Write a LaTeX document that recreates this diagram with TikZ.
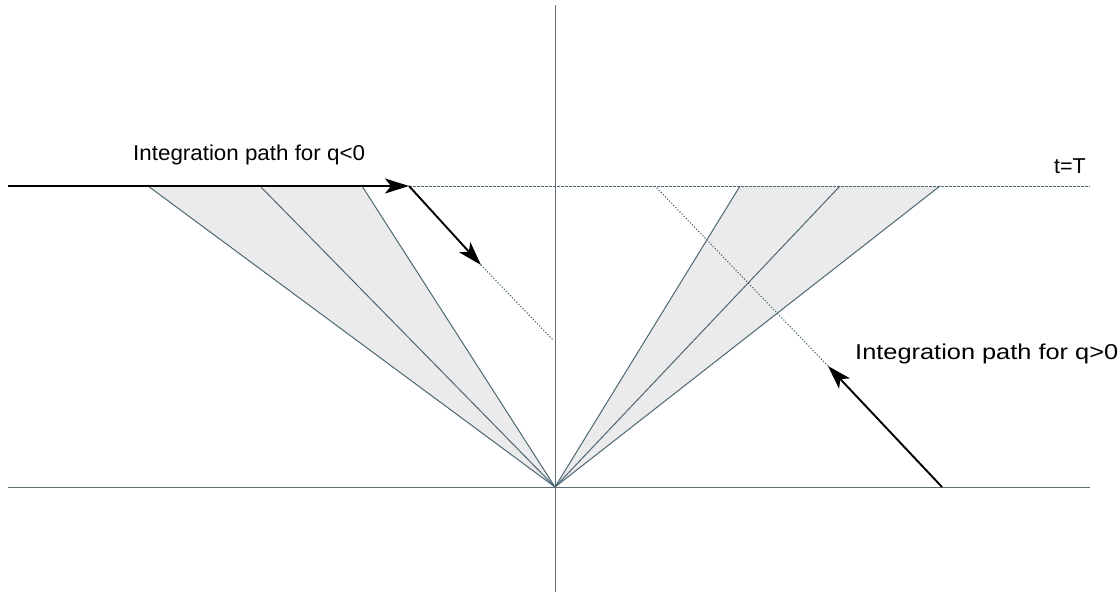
\documentclass[tikz,border=0pt]{standalone}
\usepackage{fontspec}
\setmainfont{Liberation Sans}
\usetikzlibrary{arrows.meta}
\definecolor{linec}{HTML}{4D6774}
\definecolor{axisc}{HTML}{5E6E74}
\definecolor{wedgegray}{HTML}{EBEBEB}
\begin{document}
\begin{tikzpicture}[x=1pt,y=-1pt,
  ray/.style={draw=linec, line width=1pt},
  axis/.style={draw=axisc, line width=1pt},
  tline/.style={draw=linec, line width=1pt, dash pattern=on 2.5pt off 1.5pt},
  dotline/.style={draw=linec, line width=1.1pt, dash pattern=on 1.2pt off 1.8pt},
  ipath/.style={draw=black, line width=1.9pt, -{Stealth[length=24pt,width=15pt,inset=6pt]}},
  lbl/.style={font=\fontsize{21.5}{25}\selectfont, inner sep=0pt, anchor=base west}]
\useasboundingbox (0,0) rectangle (1120,594);
% key points
\coordinate (O) at (555,487);
\coordinate (L1) at (148,186);
\coordinate (L2) at (260,186);
\coordinate (L3) at (362,186);
\coordinate (R1) at (740,186);
\coordinate (R2) at (840,186);
\coordinate (R3) at (940,186);
\coordinate (Ttop) at (555,5);
\coordinate (Tbot) at (555,592);
\coordinate (Hl) at (8,487);
\coordinate (Hr) at (1090,487);
\coordinate (Tl) at (8,186);
\coordinate (Tr) at (1090,186);
\coordinate (A1) at (409,186);
\coordinate (A2) at (481,265);
\coordinate (A3) at (553,340);
\coordinate (B1) at (942,487);
\coordinate (B2) at (828,366);
\coordinate (B3) at (655,186);
% shaded wedges
\fill[wedgegray] (O) -- (L1) -- (L3) -- cycle;
\fill[wedgegray] (O) -- (R1) -- (R3) -- cycle;
% rays
\foreach \p in {L1,L2,L3,R1,R2,R3} \draw[ray] (O) -- (\p);
% axes
\draw[axis] (Ttop) -- (Tbot);
\draw[axis] (Hl) -- (Hr);
% t = T line
\draw[tline] (A1) -- (Tr);
% integration paths
\draw[dotline] (A2) -- (A3);
\draw[dotline] (B2) -- (B3);
\draw[ipath] (Tl) -- (A1);
\draw[ipath] (A1) -- (A2);
\draw[ipath] (B1) -- (B2);
% labels
\node[lbl, xscale=1.04] (lneg) at (133,160) {Integration path for q<0};
\node[lbl, xscale=1.18] (lpos) at (855,359) {Integration path for q>0};
\node[lbl, xscale=1.0] (lT) at (1054,173) {t=T};
\end{tikzpicture}
\end{document}
